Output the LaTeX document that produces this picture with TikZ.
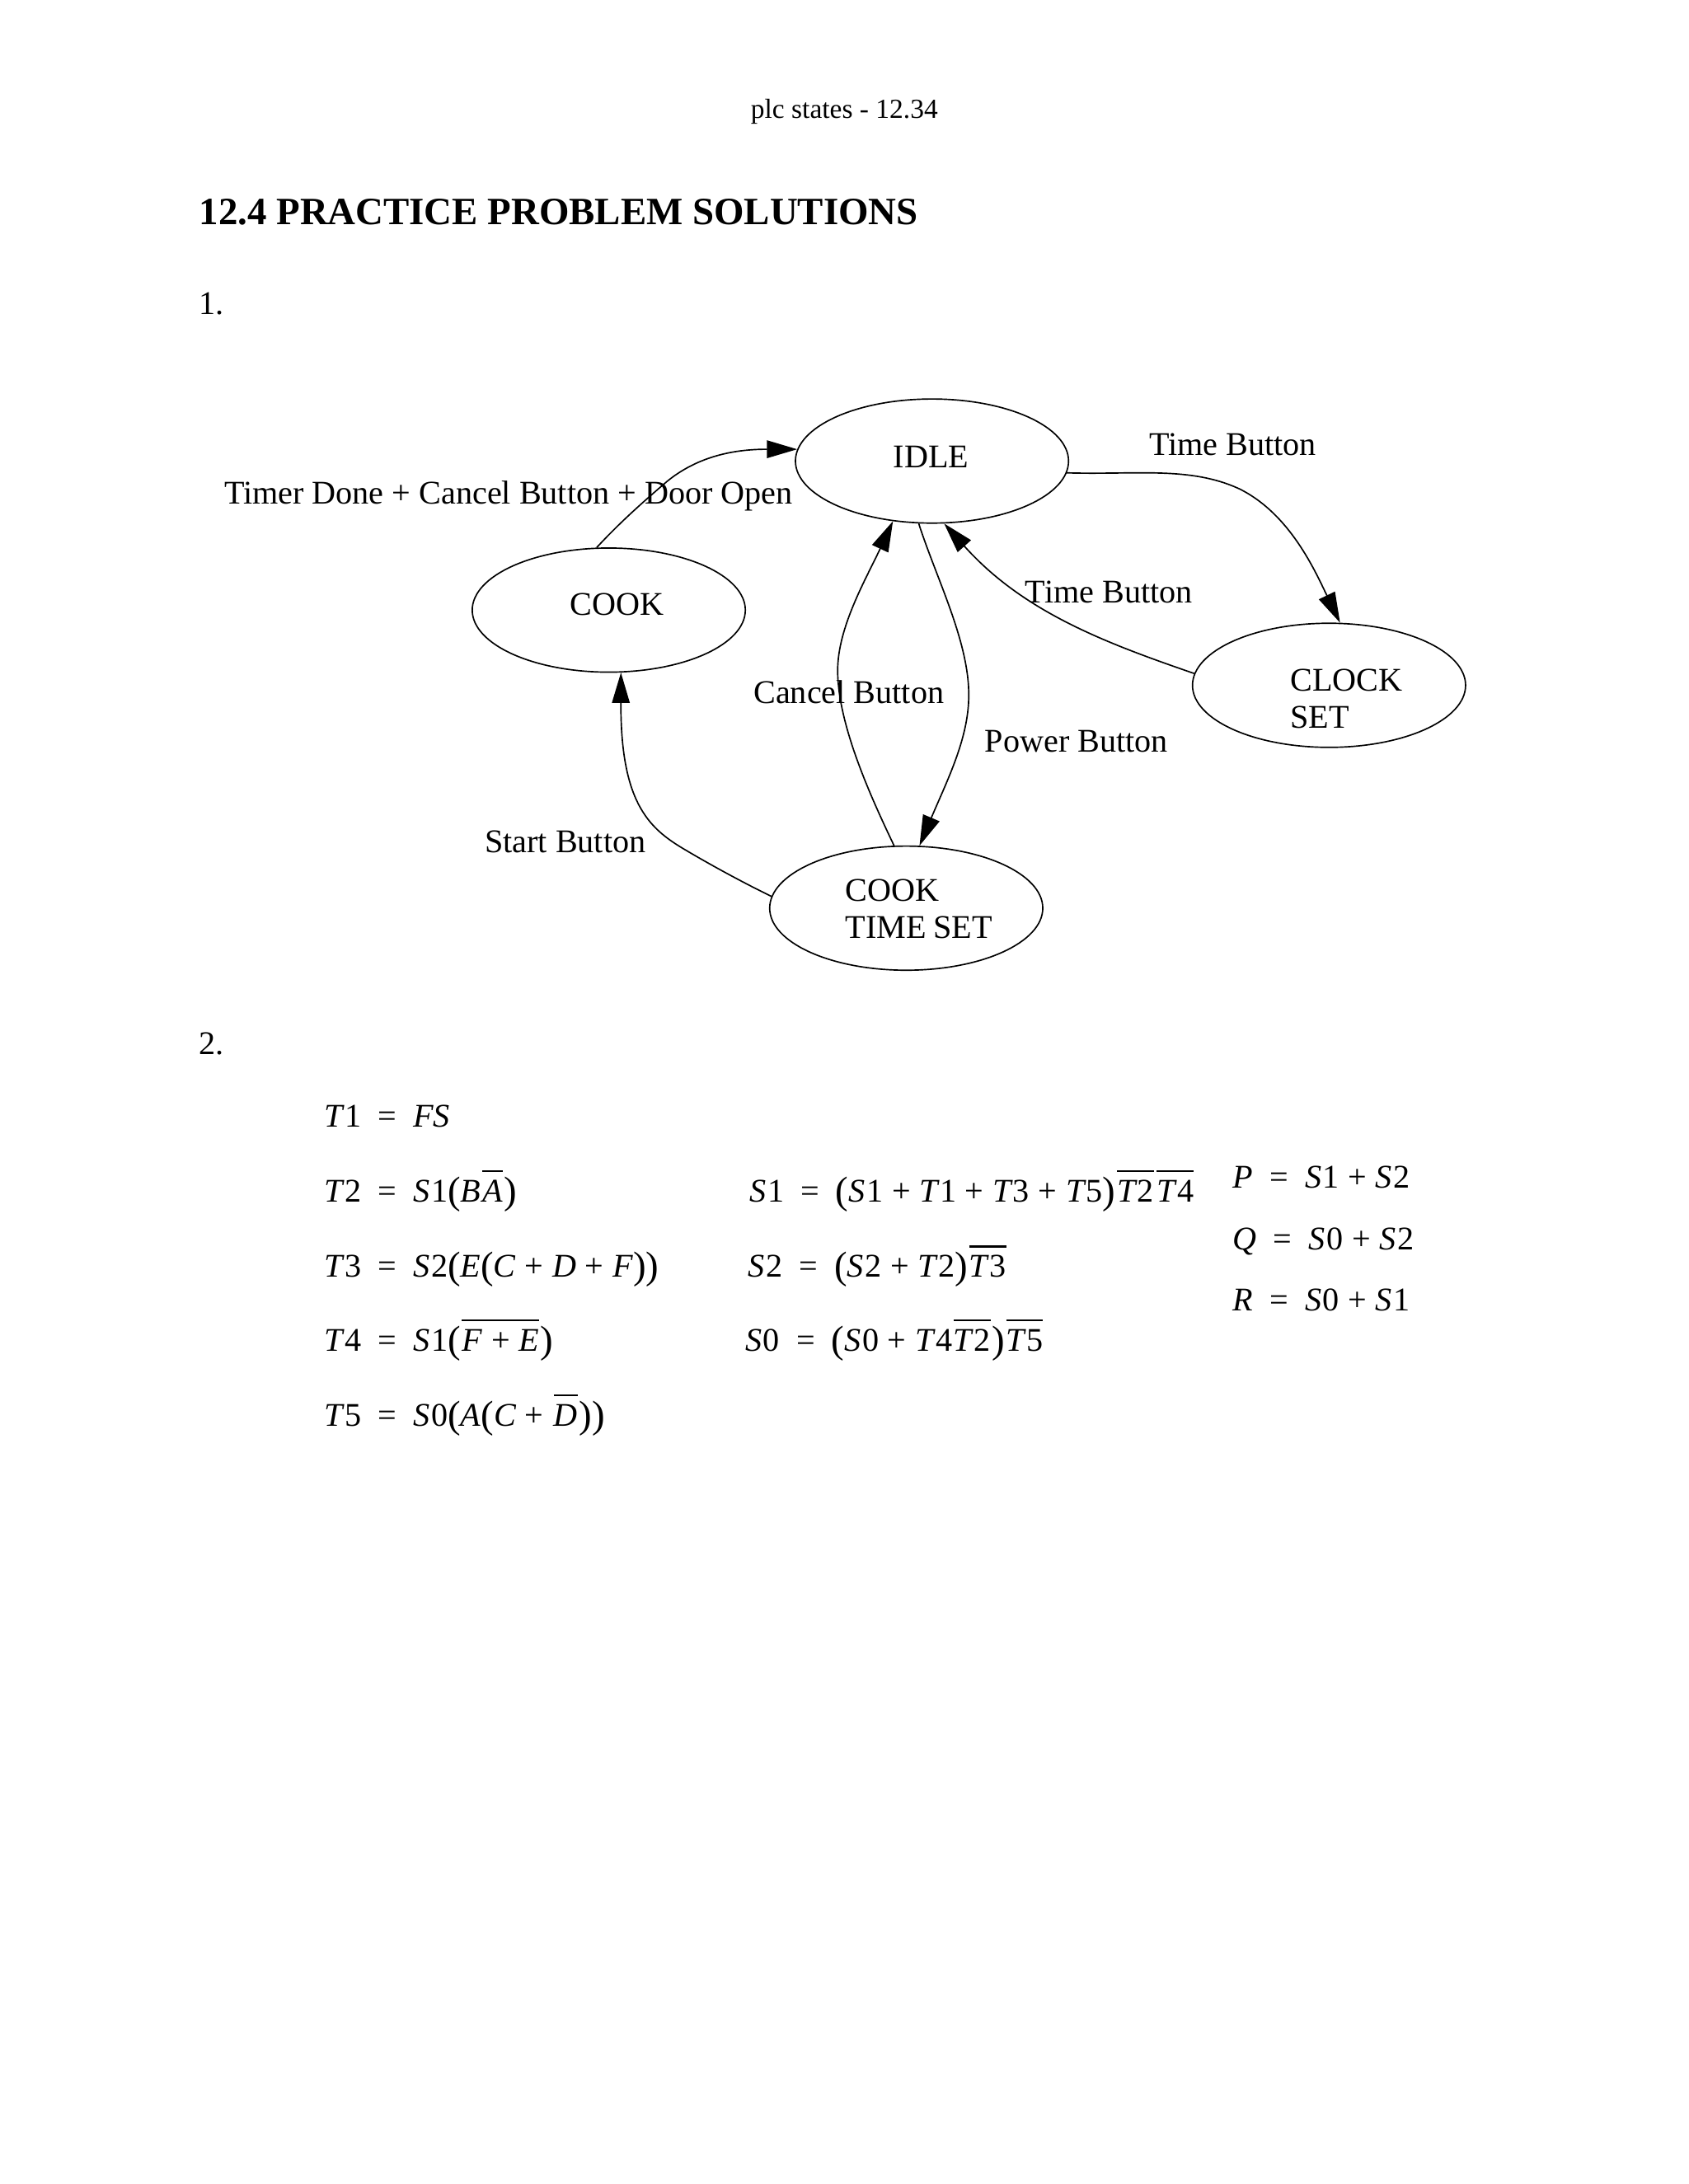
\documentclass[tikz,border=0pt]{standalone}
\usepackage{fontspec}
\setmainfont{Liberation Serif}
\usepackage{amsmath}
\usetikzlibrary{arrows.meta,shapes.geometric,calc,positioning}
\tikzstyle{stateoval}=[draw, ellipse, minimum width=99bp, minimum height=45bp,
                    inner sep=0pt, line width=0.5bp, align=left, text depth=3bp,
                    font=\fontsize{12bp}{13.5bp}\selectfont]
\tikzstyle{trans}  =[-{Triangle[length=11bp,width=6.4bp]}, line width=0.5bp]
\tikzstyle{txt}    =[anchor=base west, inner sep=0pt, outer sep=0pt, font=\fontsize{12bp}{14bp}\selectfont]
\newcommand{\iv}[1]{\textit{#1}}
\newcommand{\sv}{\textit{S}\kern0.5bp}
\newcommand{\eqs}{\enspace=\enspace}
\newcommand{\pl}{\kern3.2bp+\kern3.2bp}
\newcommand{\lp}{\raisebox{-0.5bp}{\fontsize{14bp}{14bp}\selectfont(}}
\newcommand{\rp}{\raisebox{-0.5bp}{\fontsize{14bp}{14bp}\selectfont)}}
\newcommand{\ovl}[1]{\kern0.5bp\vbox{\hrule height 0.65bp \kern2.6bp \hbox{\rule{0pt}{8.2bp}#1}}\kern0.5bp}

\begin{document}
\begin{tikzpicture}[x=0.505bp, y=-0.505bp]
    \useasboundingbox (0,0) rectangle (1212,1568);
    % page text
    \node[txt, font=\fontsize{10bp}{12bp}\selectfont] (header) at (539,85) {plc states - 12.34};
    \node[txt, font=\fontsize{14bp}{16bp}\selectfont\bfseries] (title) at (143,161) {12.4 PRACTICE PROBLEM SOLUTIONS};
    \node[txt] (one) at (143,226) {1.};
    \node[txt] (two) at (143,757) {2.};
    % states
    \node[stateoval, text width=28bp] (idle) at (669,331) {IDLE};
    \node[stateoval, text width=28bp, text depth=4bp] (cook) at (437,438) {COOK};
    \node[stateoval, text width=28bp, text depth=4bp] (clock) at (954,492) {CLOCK\\SET};
    \node[stateoval, text width=44bp, text depth=13bp] (cookset) at (650.5,652) {COOK\\TIME\kern-1.5bp~SET};
    % transitions
    \draw[trans] (cook.101) .. controls (445,375) and (462,360) .. (479.3,345.2)
        .. controls (497,331) and (520,322.5) .. (idle.175);
    \draw[trans] (idle.-5.5) .. controls (815,341) and (854,334.5) .. (889.7,351)
        .. controls (926,369) and (944,410) .. (clock.80);
    \draw[trans] (clock.175) .. controls (795,462) and (735,440) .. (idle.-79);
    \draw[trans] (cookset.101.5) .. controls (625,572) and (601.3,520) .. (601.3,481.3)
        .. controls (601.3,450) and (622,415) .. (idle.-123);
    \draw[trans] (idle.-102) .. controls (672,415) and (695.4,460) .. (695.4,499)
        .. controls (695.4,530) and (680,560) .. (cookset.78);
    \draw[trans] (cookset.175) .. controls (530,632) and (505,618) .. (490,609)
        .. controls (465,594) and (445.5,575) .. (cook.-79.5);
    % transition labels
    \node[txt] (timebtn) at (825,327) {Time Button};
    \node[txt] (donebtn) at (161,362) {Timer Done + Cancel Button + Door Open};
    \node[txt] (backbtn) at (736,433) {Time Button};
    \node[txt] (cancelbtn) at (541,505) {Cancel Button};
    \node[txt] (powerbtn) at (707,540) {Power Button};
    \node[txt] (startbtn) at (348,612) {Start Button};
    % equations
    \node[txt] (t1) at (233,809) {\iv{T}1\eqs\iv{FS}};
    \node[txt] (t2) at (233,863) {\iv{T}2\eqs\sv1\lp\iv{B}\ovl{\iv{A}}\rp};
    \node[txt] (t3) at (233,917) {\iv{T}3\eqs\sv2\lp\iv{E}\lp\iv{C}\pl\iv{D}\pl\iv{F}\rp\rp};
    \node[txt] (t4) at (233,970) {\iv{T}4\eqs\sv1\lp\ovl{\iv{F}\pl\iv{E}}\rp};
    \node[txt] (t5) at (233,1024) {\iv{T}5\eqs\sv0\lp\iv{A}\lp\iv{C}\pl\ovl{\iv{D}}\rp\rp};
    \node[txt] (s1) at (538,863) {\sv1\eqs\lp\sv1\pl\iv{T}1\pl\iv{T}3\pl\iv{T}5\rp\ovl{\iv{T}2}\ovl{\iv{T}4}};
    \node[txt] (s2) at (537,917) {\sv2\eqs\lp\sv2\pl\iv{T}2\rp\ovl{\iv{T}3}};
    \node[txt] (s0) at (535,970) {\sv0\eqs\lp\sv0\pl\iv{T}4\ovl{\iv{T}2}\rp\ovl{\iv{T}5}};
    \node[txt] (p) at (885,853) {\iv{P}\eqs\sv1\pl\sv2};
    \node[txt] (q) at (885,897) {\iv{Q}\eqs\sv0\pl\sv2};
    \node[txt] (r) at (885,941) {\iv{R}\eqs\sv0\pl\sv1};
\end{tikzpicture}
\end{document}
